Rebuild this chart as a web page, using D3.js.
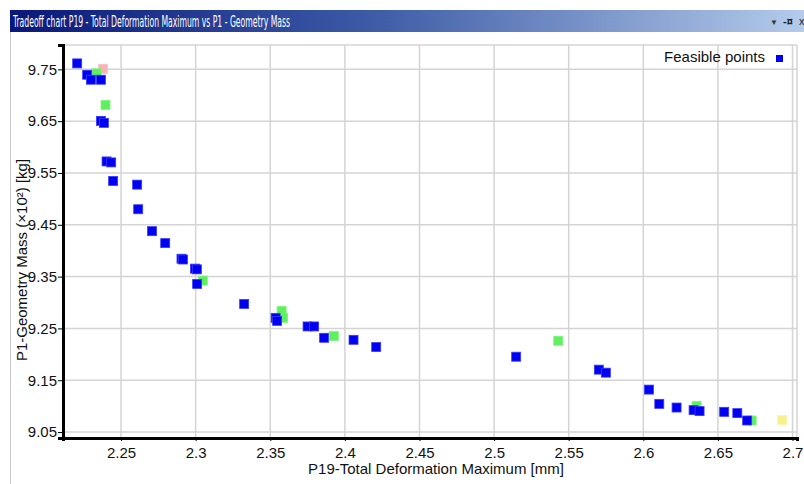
<!DOCTYPE html>
<html>
<head>
<meta charset="utf-8">
<script src="https://cdn.jsdelivr.net/npm/d3@7"></script>
<style>
  html, body { margin: 0; padding: 0; background: #fff; }
  svg { display: block; }
</style>
</head>
<body>
<svg id="chart" width="804" height="484"></svg>
<script>
// ── Data ──────────────────────────────────────────────────────────────────────
const xTicks = [2.25, 2.3, 2.35, 2.4, 2.45, 2.5, 2.55, 2.6, 2.65, 2.7];
const yTicks = [9.05, 9.15, 9.25, 9.35, 9.45, 9.55, 9.65, 9.75];

// feasible points (blue)
const blueX = [2.2206, 2.2273, 2.2298, 2.2365, 2.2365, 2.2385, 2.2403, 2.2434, 2.2447, 2.2608,
               2.2615, 2.2708, 2.2796, 2.2905, 2.2915, 2.2995, 2.3008, 2.3010, 2.3325, 2.3536,
               2.3546, 2.3750, 2.3794, 2.3861, 2.4058, 2.4210, 2.5148, 2.5702, 2.5749, 2.6038,
               2.6107, 2.6223, 2.6337, 2.6377, 2.6542, 2.6630, 2.6696];
const blueY = [9.7615, 9.7396, 9.7300, 9.7300, 9.6506, 9.6467, 9.5723, 9.5704, 9.5346, 9.5275,
               9.4800, 9.4377, 9.4146, 9.3845, 9.3830, 9.3654, 9.3640, 9.3358, 9.2973, 9.2704,
               9.2646, 9.2538, 9.2538, 9.2319, 9.2280, 9.2140, 9.1954, 9.1704, 9.1646, 9.1319,
               9.1044, 9.0973, 9.0923, 9.0904, 9.0890, 9.0865, 9.0723];

// candidate points (green)
const greenX = [2.2336, 2.2396, 2.3048, 2.3576, 2.3586, 2.3926, 2.5430, 2.6357, 2.6726];
const greenY = [9.7423, 9.6813, 9.3423, 9.2838, 9.2704, 9.2352, 9.2262, 9.1006, 9.0723];

// other points
const pinkX = [2.2380];
const pinkY = [9.7510];
const yellowX = [2.6931];
const yellowY = [9.0731];

const titleText = 'Tradeoff chart P19 - Total Deformation Maximum vs P1 - Geometry Mass';
const xTitle = 'P19-Total Deformation Maximum [mm]';
const yTitle = 'P1-Geometry Mass (×10²) [kg]';
const legendText = 'Feasible points';

// ── Layout ────────────────────────────────────────────────────────────────────
const svg = d3.select('#chart');
const FONT = 'Liberation Sans, Arial, sans-serif';
const plot = { left: 63, right: 797, top: 45, bottom: 438 };

const x = d3.scaleLinear().domain([2.2111, 2.7030]).range([plot.left, plot.right]);
const y = d3.scaleLinear().domain([9.0385, 9.7970]).range([plot.bottom, plot.top]);

// ── Window chrome ─────────────────────────────────────────────────────────────
const defs = svg.append('defs');
const grad = defs.append('linearGradient').attr('id', 'titleGrad').attr('x1', 0).attr('x2', 1);
grad.append('stop').attr('offset', '0%').attr('stop-color', '#08187a');
grad.append('stop').attr('offset', '45%').attr('stop-color', '#3c5aa6');
grad.append('stop').attr('offset', '100%').attr('stop-color', '#b4cbea');

svg.append('rect').attr('x', 0).attr('y', 0).attr('width', 804).attr('height', 484).attr('fill', '#fff');
svg.append('rect').attr('x', 10).attr('y', 10).attr('width', 794).attr('height', 22).attr('fill', 'url(#titleGrad)');
svg.append('line').attr('x1', 10.5).attr('x2', 10.5).attr('y1', 32).attr('y2', 484)
  .attr('stroke', '#c8c8c8').attr('stroke-width', 1);

svg.append('text')
  .attr('x', 13).attr('y', 27)
  .attr('fill', '#fff')
  .style('font-family', 'DejaVu Sans Condensed, DejaVu Sans, sans-serif')
  .style('font-size', '16px')
  .attr('textLength', 277).attr('lengthAdjust', 'spacingAndGlyphs')
  .text(titleText);

// little window buttons (right end of title bar)
svg.append('text').attr('x', 770).attr('y', 25).attr('fill', '#333')
  .style('font-family', FONT).style('font-size', '8px').text('▼');
svg.append('text').attr('x', 783).attr('y', 25).attr('fill', '#222')
  .style('font-family', FONT).style('font-size', '11px').style('font-weight', 'bold').text('-¤');
svg.append('text').attr('x', 799).attr('y', 25).attr('fill', '#222')
  .style('font-family', FONT).style('font-size', '11px').text('x');

// ── Grid ──────────────────────────────────────────────────────────────────────
const grid = svg.append('g');
grid.selectAll('line.vx').data(xTicks).enter().append('line')
  .attr('x1', d => x(d)).attr('x2', d => x(d))
  .attr('y1', plot.top).attr('y2', plot.bottom)
  .attr('stroke', '#d4d4d4').attr('stroke-width', 1.5);
grid.selectAll('line.hy').data(yTicks).enter().append('line')
  .attr('x1', plot.left).attr('x2', plot.right)
  .attr('y1', d => y(d)).attr('y2', d => y(d))
  .attr('stroke', '#d4d4d4').attr('stroke-width', 1.5);
// frame top/right
grid.append('line').attr('x1', plot.left).attr('x2', plot.right).attr('y1', plot.top).attr('y2', plot.top)
  .attr('stroke', '#d4d4d4').attr('stroke-width', 1.5);
grid.append('line').attr('x1', plot.right).attr('x2', plot.right).attr('y1', plot.top).attr('y2', plot.bottom)
  .attr('stroke', '#d4d4d4').attr('stroke-width', 1.5);

// ── Axes ──────────────────────────────────────────────────────────────────────
const xAxis = svg.append('g').attr('transform', `translate(0,${plot.bottom})`)
  .call(d3.axisBottom(x).tickValues(xTicks).tickSize(3).tickPadding(6).tickFormat(d3.format('')));
const yAxis = svg.append('g').attr('transform', `translate(${plot.left},0)`)
  .call(d3.axisLeft(y).tickValues(yTicks).tickSize(5).tickPadding(1).tickFormat(d3.format('.2f')));

[xAxis, yAxis].forEach(a => {
  a.select('.domain').attr('stroke', '#000').attr('stroke-width', 3);
  a.selectAll('.tick line').attr('stroke', '#000').attr('stroke-width', 1);
  a.selectAll('.tick text').attr('fill', '#111').style('font-family', FONT).style('font-size', '15px');
});

svg.append('text')
  .attr('x', 436).attr('y', 474)
  .attr('text-anchor', 'middle').attr('fill', '#111')
  .style('font-family', FONT).style('font-size', '15px')
  .text(xTitle);

svg.append('text')
  .attr('transform', 'translate(27,260) rotate(-90)')
  .attr('text-anchor', 'middle').attr('fill', '#111')
  .style('font-family', FONT).style('font-size', '15px')
  .text(yTitle);

// ── Points ────────────────────────────────────────────────────────────────────
const S = 9;
function drawSeries(xs, ys, fill, stroke) {
  svg.append('g').selectAll('rect').data(xs.map((v, i) => [v, ys[i]])).enter().append('rect')
    .attr('x', d => x(d[0]) - S / 2).attr('y', d => y(d[1]) - S / 2)
    .attr('width', S).attr('height', S)
    .attr('fill', fill).attr('stroke', stroke).attr('stroke-width', 0.8);
}
drawSeries(pinkX, pinkY, '#f5b4b4', '#f7c4c4');
drawSeries(yellowX, yellowY, '#f7f08c', '#f8f4a8');
drawSeries(greenX, greenY, '#5ef05e', '#7ff47f');
drawSeries(blueX, blueY, '#0000f0', '#3a3aff');

// ── Legend ────────────────────────────────────────────────────────────────────
svg.append('text')
  .attr('x', 765).attr('y', 62).attr('text-anchor', 'end').attr('fill', '#111')
  .style('font-family', FONT).style('font-size', '15px')
  .text(legendText);
svg.append('rect').attr('x', 776).attr('y', 55).attr('width', 7).attr('height', 7).attr('fill', '#0000f0');
</script>
</body>
</html>
